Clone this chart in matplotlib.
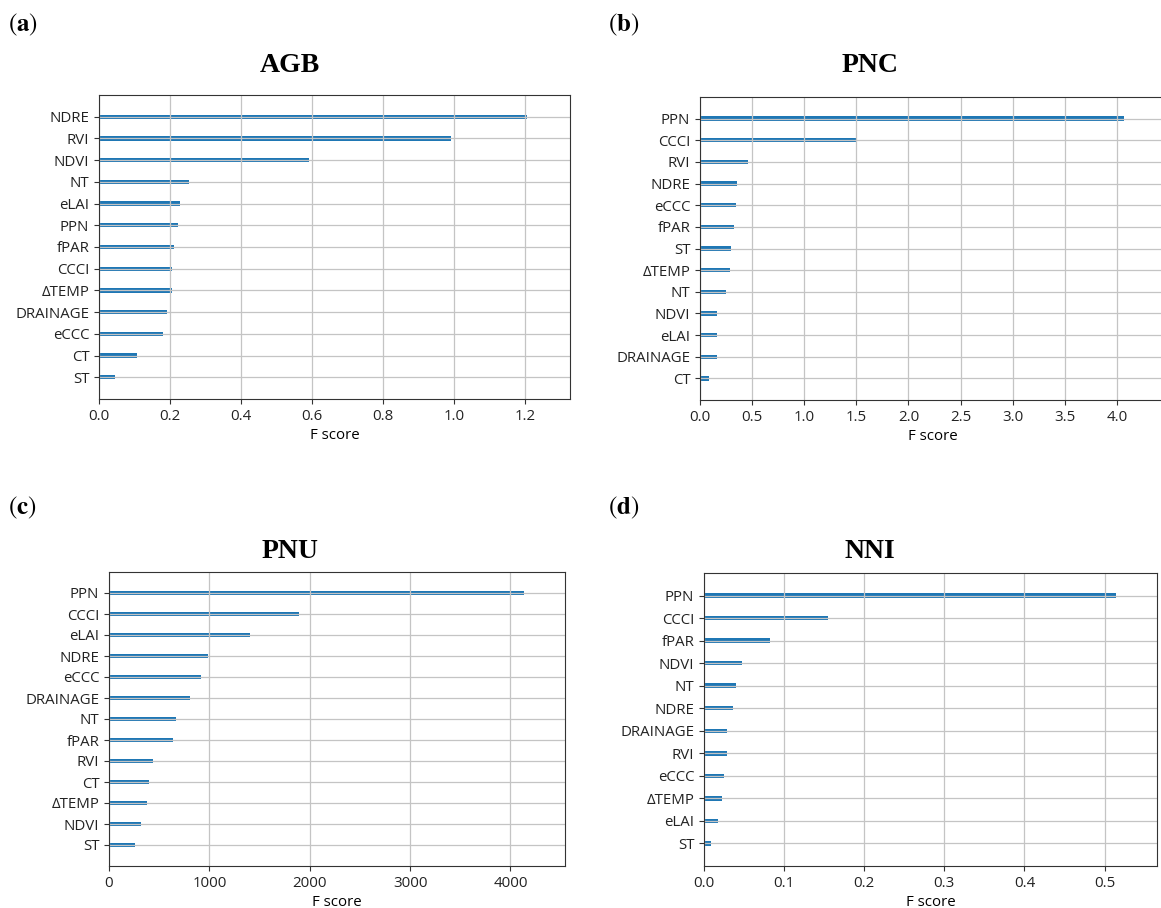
import numpy as np
import matplotlib
matplotlib.use("Agg")
import matplotlib.pyplot as plt
from matplotlib.ticker import MultipleLocator

# ---------------- data (top to bottom as shown) ----------------
agb_features = ["NDRE", "RVI", "NDVI", "NT", "eLAI", "PPN", "fPAR", "CCCI",
                "ΔTEMP", "DRAINAGE", "eCCC", "CT", "ST"]
agb_scores = [1.205, 0.991, 0.590, 0.252, 0.229, 0.221, 0.212, 0.205,
              0.205, 0.192, 0.181, 0.106, 0.046]

pnc_features = ["PPN", "CCCI", "RVI", "NDRE", "eCCC", "fPAR", "ST", "ΔTEMP",
                "NT", "NDVI", "eLAI", "DRAINAGE", "CT"]
pnc_scores = [4.064, 1.498, 0.461, 0.355, 0.341, 0.327, 0.302, 0.287,
              0.248, 0.167, 0.167, 0.167, 0.085]

pnu_features = ["PPN", "CCCI", "eLAI", "NDRE", "eCCC", "DRAINAGE", "NT", "fPAR",
                "RVI", "CT", "ΔTEMP", "NDVI", "ST"]
pnu_scores = [4130, 1896, 1406, 987, 913, 809, 672, 642, 438, 397, 382, 315, 263]

nni_features = ["PPN", "CCCI", "fPAR", "NDVI", "NT", "NDRE", "DRAINAGE", "RVI",
                "eCCC", "ΔTEMP", "eLAI", "ST"]
nni_scores = [0.514, 0.1546, 0.0822, 0.0478, 0.0395, 0.0362, 0.0292, 0.0292,
              0.0246, 0.0223, 0.0176, 0.0088]

titles = ["AGB", "PNC", "PNU", "NNI"]
letters = ["a", "b", "c", "d"]
tick_steps = [0.2, 0.5, 1000, 0.1]

# ---------------- layout ----------------
W, H = 1161, 908
plt.rcParams["mathtext.fontset"] = "stix"
fig = plt.figure(figsize=(W / 100, H / 100), dpi=100)

def rect(l, r, t, b):
    return [l / W, 1 - b / H, (r - l) / W, (b - t) / H]

panels = [
    dict(feat=agb_features, val=agb_scores, box=(99, 570, 95, 399),
         title_xy=(290, 65), lab_xy=(8, 25)),
    dict(feat=pnc_features, val=pnc_scores, box=(700, 1166, 97, 400),
         title_xy=(870, 65), lab_xy=(608, 25)),
    dict(feat=pnu_features, val=pnu_scores, box=(109, 565, 572, 866),
         title_xy=(290, 552), lab_xy=(8, 508)),
    dict(feat=nni_features, val=nni_scores, box=(704, 1157, 573, 866),
         title_xy=(870, 552), lab_xy=(608, 508)),
]

tick_font = "Open Sans"
fs = 10.8
for i, p in enumerate(panels):
    ax = fig.add_axes(rect(*p["box"]))
    feats = p["feat"][::-1]
    vals = p["val"][::-1]
    n = len(feats)
    ypos = np.arange(n)
    ax.barh(ypos, vals, height=0.2, align="center", color="#1f77b4")
    ax.set_yticks(ypos)
    ax.set_yticklabels(feats, fontfamily=tick_font, fontsize=fs)
    ax.set_ylim(-1, n)
    ax.set_xlim(0, max(vals) * 1.1)
    ax.xaxis.set_major_locator(MultipleLocator(tick_steps[i]))
    for lab in ax.get_xticklabels():
        lab.set_fontfamily(tick_font)
        lab.set_fontsize(fs)
    ax.set_xlabel("F score", fontfamily=tick_font, fontsize=fs, labelpad=3)
    ax.grid(True, color="#c4c4c4", linewidth=0.9)
    for s in ax.spines.values():
        s.set_color("#333333")
    ax.tick_params(axis="both", colors="#333333", labelcolor="#222222")

    tx, ty = p["title_xy"]
    fig.text(tx / W, 1 - ty / H, titles[i], ha="center", va="center",
             fontfamily="Liberation Serif", fontweight="bold", fontsize=20)
    lx, ly = p["lab_xy"]
    fig.text(lx / W, 1 - ly / H, r"$\mathrm{(}\mathbf{%s}\mathrm{)}$" % letters[i],
             ha="left", va="center", fontsize=18)

fig.savefig("out.png", dpi=100)
